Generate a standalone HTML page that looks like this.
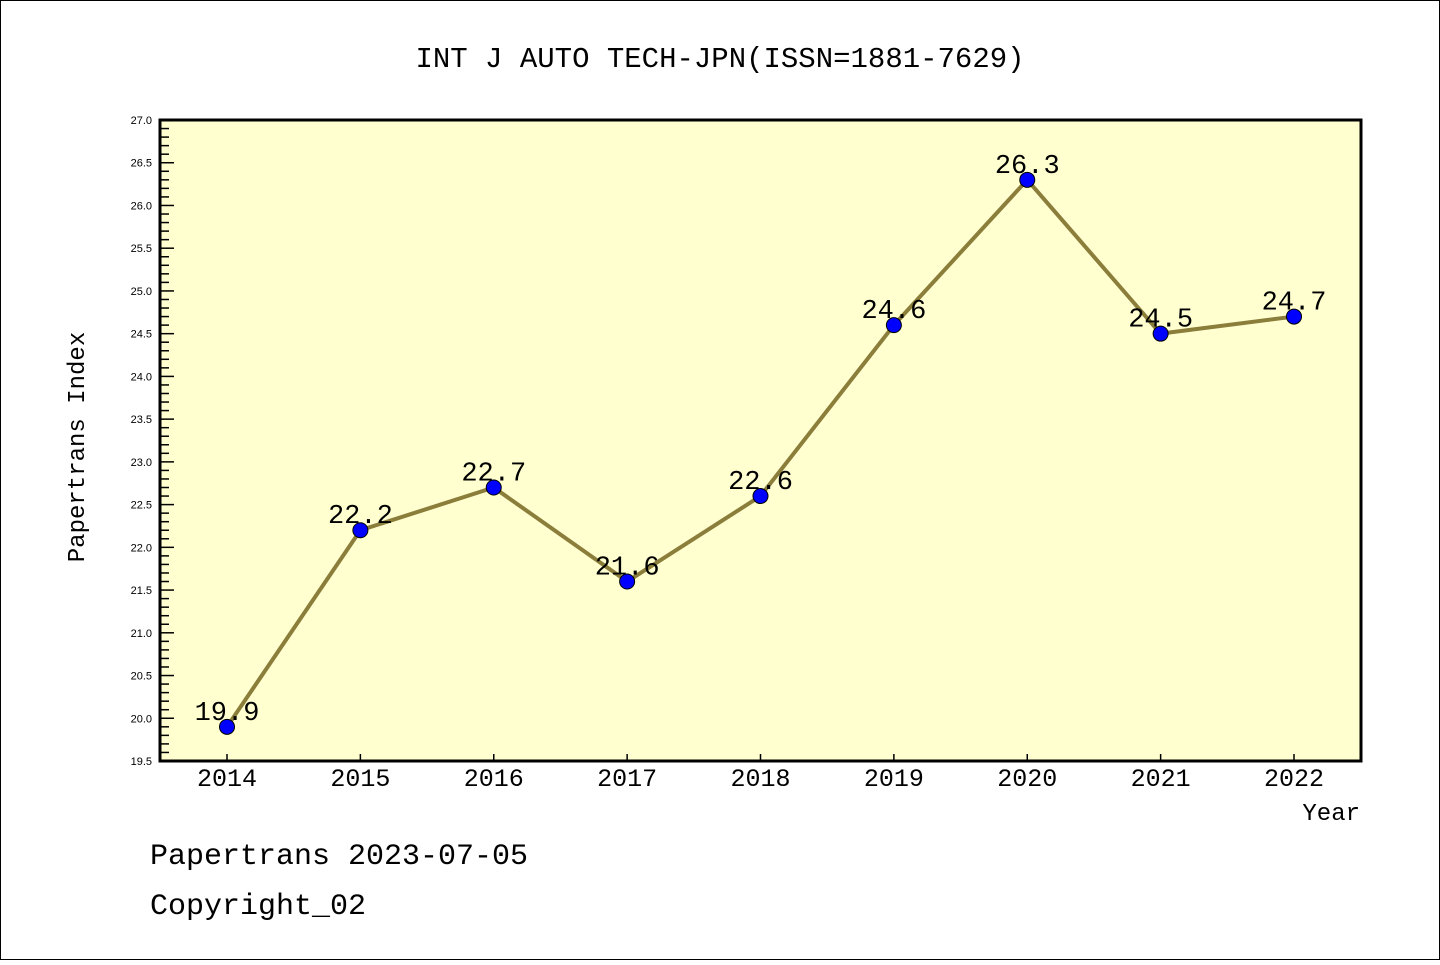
<!DOCTYPE html>
<html><head><meta charset="utf-8"><style>
body{margin:0;background:#fff;}
svg text{font-family:"Liberation Mono",monospace;}
svg text.tick{font-family:"Liberation Sans",sans-serif;}
</style></head><body>
<svg width="1440" height="960" xmlns="http://www.w3.org/2000/svg">
<rect x="0.5" y="0.5" width="1439" height="959" fill="#fff" stroke="#000"/>
<text x="720" y="67" font-size="29" text-anchor="middle">INT J AUTO TECH-JPN(ISSN=1881-7629)</text>
<rect x="160" y="120" width="1201" height="641" fill="#ffffd0"/>
<g id="yaxis"></g>
<g id="xaxis"></g>
<g id="series"></g>
<rect x="160" y="120" width="1201" height="641" fill="none" stroke="#000" stroke-width="3"/>
<text x="84" y="447" font-size="24" text-anchor="middle" transform="rotate(-90 84 447)">Papertrans Index</text>
<text x="1360" y="820" font-size="24" text-anchor="end">Year</text>
<text x="150" y="864" font-size="30">Papertrans 2023-07-05</text>
<text x="150" y="914" font-size="30">Copyright_02</text>
</svg>
<script>
const years=[2014,2015,2016,2017,2018,2019,2020,2021,2022];
const values=[19.9,22.2,22.7,21.6,22.6,24.6,26.3,24.5,24.7];
const yTicks=["19.5","20.0","20.5","21.0","21.5","22.0","22.5","23.0","23.5","24.0","24.5","25.0","25.5","26.0","26.5","27.0"];
const NS="http://www.w3.org/2000/svg";
const yMin=19.5,yMax=27.0;
function ys(v){return 761-(v-yMin)/(yMax-yMin)*641;}
function xs(i){return 227+i*(1294-227)/(years.length-1);}
function mk(tag,attrs,parent){const e=document.createElementNS(NS,tag);for(const k in attrs)e.setAttribute(k,attrs[k]);parent.appendChild(e);return e;}
const ya=document.getElementById('yaxis'),xa=document.getElementById('xaxis'),sg=document.getElementById('series');
for(let k=0;k<=75;k++){const v=yMin+k*0.1;const y=ys(v);const major=k%5===0;
 const t=mk('line',{x1:160,x2:major?174:169,y1:y,y2:y,stroke:'#000','stroke-width':1.5},ya);
 
 }
yTicks.forEach(s=>{const t=mk('text',{x:152,y:ys(parseFloat(s))+4,'font-size':11,'text-anchor':'end','class':'tick'},ya);t.textContent=s;
 
 });
years.forEach((yr,i)=>{const l=mk('line',{x1:xs(i),x2:xs(i),y1:754,y2:761,stroke:'#000','stroke-width':1.5},xa);
 
 
 const t=mk('text',{x:xs(i),y:786,'font-size':25,'text-anchor':'middle'},xa);t.textContent=yr;
 
 });
const pl=mk('polyline',{points:values.map((v,i)=>xs(i)+','+ys(v)).join(' '),fill:'none',stroke:'#8b7d3a','stroke-width':4,'stroke-linejoin':'round'},sg);


values.forEach((v,i)=>{
 const t=mk('text',{x:xs(i),y:ys(v)-7,'font-size':27,'text-anchor':'middle'},sg);t.textContent=v.toFixed(1);
 
 });
values.forEach((v,i)=>{const c=mk('circle',{cx:xs(i),cy:ys(v),r:7.5,fill:'#0000ff',stroke:'#000','stroke-width':1},sg);
 
 });
</script>
</body></html>
